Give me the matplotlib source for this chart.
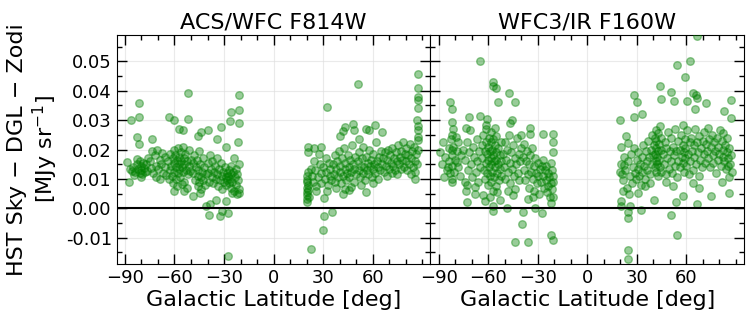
"""
sky_vs_latitude.py
Residual HST sky (after DGL and zodi subtraction) against galactic latitude,
ACS/WFC F814W and WFC3/IR F160W side by side.
Output: out.png
"""

import numpy as np
import matplotlib
matplotlib.use("Agg")
import matplotlib.pyplot as plt
from matplotlib.ticker import MultipleLocator

# (galactic latitude [deg], residual sky [MJy/sr])
acs_south = [
    (-52, .0392), (-81.4, .0360), (-86.6, .0300), (-81.4, .0310), (-63.6, .0310), (-60.4, .0300),
    (-51.6, .0305), (-20.8, .0386), (-25.6, .0327), (-20.8, .0334), (-26.4, .0298), (-20.8, .0291),
    (-32, .0276), (-57, .0270), (-54.6, .0265), (-44, .0258), (-39.6, .0265), (-46, .0247),
    (-83, .0242), (-73.4, .0235), (-34.4, .0235), (-21.4, .0227), (-81.4, .0218), (-29, .0210),
    (-24, .0170), (-89, .0156), (-87, .0133), (-87.4, .0088), (-60.4, .0060), (-54, .0058),
    (-49, .0042), (-44.6, .0051), (-35, .0028), (-29, .0025), (-41, .0006), (-38.6, .0014),
    (-39, -.0024), (-32.4, -.0026), (-31.4, -.0011), (-27.6, -.0016), (-27.4, -.0163), (-21, .0051),
    (-85, .0140), (-84, .0125), (-83, .0150), (-82, .0135), (-81, .0160), (-81, .0120),
    (-80, .0145), (-80, .0130), (-79.5, .0115), (-79, .0155), (-78.5, .0138), (-78, .0125),
    (-84.5, .0112), (-82.5, .0168), (-86, .0128), (-80.5, .0105),
    (-77, .0150), (-76, .0170), (-75, .0160), (-74, .0138), (-73, .0120), (-72, .0182),
    (-71.5, .0145), (-71, .0105), (-70, .0132), (-69, .0165), (-68.5, .0098), (-68, .0150),
    (-67, .0120), (-66, .0175), (-65.5, .0140), (-65, .0112), (-76.5, .0128), (-73.5, .0195),
    (-70.5, .0200), (-67.5, .0188),
    (-64, .0160), (-63, .0130), (-62.5, .0185), (-62, .0145), (-61.5, .0110), (-61, .0170),
    (-60.5, .0200), (-60, .0155), (-60, .0125), (-59.5, .0180), (-59, .0140), (-59, .0098),
    (-58.5, .0165), (-58, .0205), (-58, .0120), (-57.5, .0150), (-57, .0175), (-57, .0135),
    (-56.5, .0108), (-56, .0190), (-56, .0160), (-55.5, .0142), (-55, .0125), (-55, .0210),
    (-54.5, .0170), (-54, .0150), (-54, .0090), (-53.5, .0185), (-53, .0130), (-52.5, .0160),
    (-52, .0115), (-51.5, .0145), (-51, .0200), (-50.5, .0128), (-50, .0165), (-63.5, .0098),
    (-61, .0085), (-58.5, .0075), (-55.5, .0082), (-52.5, .0070),
    (-49, .0155), (-48.5, .0120), (-48, .0180), (-47.5, .0095), (-47, .0140), (-46.5, .0165),
    (-46, .0110), (-46, .0075), (-45.5, .0130), (-45, .0195), (-45, .0088), (-44.5, .0150),
    (-44, .0105), (-44, .0065), (-43.5, .0125), (-43, .0170), (-42.5, .0095), (-42, .0140),
    (-41.5, .0080), (-41, .0115),
    (-40, .0155), (-39.5, .0120), (-39, .0090), (-38.5, .0180), (-38, .0135), (-37.5, .0105),
    (-37, .0160), (-36.5, .0085), (-36, .0125), (-35.5, .0145), (-35, .0100), (-34.5, .0170),
    (-34, .0115), (-33.5, .0075), (-33, .0135), (-32.5, .0095), (-32, .0155), (-31.5, .0110),
    (-31, .0065), (-30.5, .0125), (-30, .0090),
    (-29.5, .0140), (-29, .0105), (-28.5, .0080), (-28, .0120), (-28, .0095), (-27.5, .0110),
    (-27, .0130), (-27, .0085), (-26.5, .0100), (-26, .0145), (-26, .0070), (-25.5, .0115),
    (-25, .0090), (-24.5, .0125), (-24, .0060), (-23.5, .0105), (-23, .0135), (-22.5, .0080),
    (-22, .0115), (-21.5, .0095), (-21, .0065), (-21, .0150), (-22, .0048), (-25, .0052),
]

acs_north = [
    (50.9, .0423), (32.2, .0344), (87.7, .0457), (87.7, .0411), (87.7, .0380), (87.7, .0370),
    (87.5, .0340), (86.8, .0300), (87.7, .0280), (87.5, .0267), (87.5, .0244), (87.5, .0233),
    (47.9, .0286), (43.4, .0276), (48.5, .0267), (56, .0270), (58, .0267), (61.6, .0284),
    (40.4, .0247), (41.8, .0264), (66, .0258), (20.7, .0210), (20.7, .0193), (24.7, .0205),
    (28.7, .0208), (30.3, .0034), (30.3, -.0025), (35.2, -.0014), (30.1, -.0074), (22.7, -.0139),
    (55.9, .0055), (41.8, .0048), (45.8, .0063),
    (20, .0030), (20, .0045), (20.5, .0055), (20, .0068), (21, .0080), (20.5, .0095),
    (20, .0110), (21, .0125), (20.5, .0020), (21.5, .0040), (20, .0088), (21, .0062),
    (23, .0110), (24, .0090), (25, .0130), (26, .0075), (27, .0105), (28, .0150),
    (28.5, .0120), (29, .0085), (30, .0140), (31, .0100), (31.5, .0170), (32, .0125),
    (33, .0080), (33.5, .0155), (34, .0110), (34.5, .0135), (35, .0095), (24.5, .0160),
    (27.5, .0185), (22.5, .0135), (26, .0060), (32.5, .0060),
    (36, .0150), (36.5, .0115), (37, .0180), (37.5, .0090), (38, .0135), (38.5, .0160),
    (39, .0105), (39.5, .0195), (40, .0125), (40.5, .0145), (41, .0085), (41.5, .0170),
    (42, .0110), (42.5, .0205), (43, .0135), (43.5, .0155), (44, .0095), (44.5, .0120),
    (45, .0180), (45.5, .0140), (46, .0105), (46.5, .0165), (47, .0125), (47.5, .0215),
    (48, .0150), (48.5, .0090), (49, .0135), (49.5, .0175), (50, .0115), (38, .0070),
    (43, .0065), (47, .0072),
    (51, .0160), (51.5, .0130), (52, .0190), (52.5, .0105), (53, .0145), (53.5, .0170),
    (54, .0120), (54.5, .0210), (55, .0140), (55.5, .0095), (56, .0175), (56.5, .0130),
    (57, .0155), (57.5, .0115), (58, .0200), (58.5, .0145), (59, .0165), (59.5, .0105),
    (60, .0185), (60.5, .0135), (61, .0150), (61.5, .0120), (62, .0225), (62.5, .0160),
    (63, .0140), (63.5, .0100), (64, .0175), (64.5, .0130), (65, .0195), (53, .0080),
    (60, .0085), (52, .0235),
    (66, .0150), (66.5, .0170), (67, .0125), (67.5, .0190), (68, .0145), (68.5, .0110),
    (69, .0165), (69.5, .0200), (70, .0135), (70.5, .0180), (71, .0155), (71.5, .0120),
    (72, .0205), (72.5, .0145), (73, .0170), (73.5, .0130), (74, .0190), (74.5, .0160),
    (75, .0115), (75.5, .0215), (76, .0150), (76.5, .0175), (77, .0135), (77.5, .0195),
    (78, .0165), (78.5, .0225), (79, .0140), (79.5, .0185),
    (80, .0160), (80.5, .0205), (81, .0130), (81.5, .0180), (82, .0150), (82.5, .0220),
    (83, .0115), (83.5, .0170), (84, .0195), (84.5, .0140), (85, .0210), (85.5, .0160),
    (86, .0125), (86.5, .0185), (87, .0150), (87.5, .0200), (86, .0100),
]

wfc3_south = [
    (-65.2, .0503), (-57.2, .0430), (-57.2, .0417), (-55, .0410), (-47.1, .0392), (-54.1, .0361),
    (-44, .0361), (-82.8, .0361), (-81.8, .0339), (-71.7, .0310), (-65.2, .0315), (-60.6, .0303),
    (-81.8, .0295), (-45.5, .0300), (-47, .0290), (-73.7, .0275), (-71, .0267), (-34.4, .0273),
    (-34.4, .0252), (-40, .0250), (-26.7, .0252), (-20.6, .0252), (-20.6, .0227), (-81.8, .0250),
    (-79.7, .0242), (-81.8, .0199), (-78.7, .0159), (-84.4, .0142), (-86.8, .0108), (-81.8, .0099),
    (-81.8, .0091), (-74.3, .0088), (-72.7, .0023), (-68.2, .0074), (-68.2, .0048), (-62, .0025),
    (-57.2, -.0009), (-57.2, .0009), (-52.6, .0028), (-48.5, .0000), (-39, -.0014), (-39.2, -.0053),
    (-43.8, -.0114), (-36, -.0114), (-21.7, -.0091), (-20.9, -.0108), (-27.3, -.0015), (-31.7, .0002),
    (-21.9, .0017), (-20.9, .0040), (-20.9, .0089), (-22, .0153), (-25, .0144), (-27.6, .0144),
    (-75, .0200), (-74, .0165), (-73, .0225), (-72, .0130), (-71.5, .0190), (-70.5, .0150),
    (-70, .0105), (-69, .0210), (-68.5, .0175), (-67.5, .0125), (-67, .0235), (-66.5, .0160),
    (-66, .0090), (-65.5, .0195), (-65, .0140), (-72.5, .0080), (-73.5, .0060),
    (-64, .0215), (-63.5, .0170), (-63, .0250), (-62.5, .0130), (-62, .0195), (-62, .0100),
    (-61.5, .0225), (-61, .0155), (-61, .0270), (-60.5, .0185), (-60.5, .0120), (-60, .0210),
    (-60, .0165), (-60, .0080), (-59.5, .0240), (-59.5, .0140), (-59, .0195), (-59, .0110),
    (-58.5, .0225), (-58.5, .0170), (-58, .0150), (-58, .0260), (-58, .0090), (-57.5, .0200),
    (-57.5, .0125), (-57, .0180), (-57, .0235), (-57, .0060), (-56.5, .0160), (-56.5, .0105),
    (-56, .0215), (-56, .0140), (-55.5, .0190), (-55.5, .0075), (-55, .0245), (-55, .0165),
    (-54.5, .0120), (-54, .0205), (-54, .0150), (-53.5, .0095), (-53, .0180), (-53, .0135),
    (-52.5, .0225), (-52, .0110), (-52, .0160), (-63, .0045), (-59, .0040), (-54.5, .0055),
    (-61.5, .0285), (-56, .0275),
    (-51, .0185), (-50.5, .0140), (-50, .0225), (-49.5, .0100), (-49, .0165), (-48.5, .0200),
    (-48, .0125), (-47.5, .0250), (-47, .0155), (-46.5, .0085), (-46, .0190), (-45.5, .0135),
    (-45, .0215), (-44.5, .0110), (-44, .0170), (-43.5, .0065), (-43, .0150), (-42.5, .0240),
    (-42, .0120), (-41.5, .0185), (-41, .0095), (-40.5, .0160), (-40, .0205), (-45, .0045),
    (-48, .0060),
    (-39, .0175), (-38.5, .0130), (-38, .0220), (-37.5, .0095), (-37, .0160), (-36.5, .0195),
    (-36, .0115), (-35.5, .0150), (-35, .0070), (-34.5, .0180), (-34, .0125), (-33.5, .0205),
    (-33, .0100), (-32.5, .0145), (-32, .0060), (-31.5, .0170), (-31, .0120), (-30.5, .0085),
    (-30, .0155), (-29.5, .0110), (-29, .0050), (-28.5, .0135), (-28, .0090), (-33, .0040),
    (-36, .0030),
    (-27, .0165), (-26.5, .0110), (-26, .0070), (-25.5, .0130), (-25, .0095), (-24.5, .0055),
    (-24, .0120), (-23.5, .0075), (-23, .0105), (-22.5, .0040), (-22, .0085), (-21.5, .0130),
    (-21, .0065), (-20.5, .0190), (-20.5, .0110),
    (-89, .0190), (-88, .0150), (-87.5, .0225), (-86, .0175), (-85, .0130), (-84, .0205),
    (-83.5, .0160), (-83, .0120), (-82.5, .0235), (-82, .0180), (-82, .0145), (-81.5, .0270),
    (-81, .0210), (-80.5, .0125), (-80, .0165), (-79, .0195), (-78.5, .0140), (-78, .0225),
    (-77, .0110), (-76.5, .0180),
]

wfc3_north = [
    (66.8, .0585), (54.7, .0489), (62, .0502), (59.4, .0447), (43.9, .0415), (50.7, .0397),
    (28.1, .0385), (30.1, .0363), (44.9, .0372), (52.7, .0366), (60.4, .0366), (64.4, .0392),
    (65.8, .0386), (66.6, .0374), (71.9, .0360), (87.2, .0367), (65.4, .0339), (82.9, .0330),
    (87.2, .0307), (20.1, .0301), (28.5, .0312), (33.2, .0322), (20.7, .0208), (24.7, .0222),
    (22.1, .0176), (19.7, .0122), (22.1, .0148), (25.1, .0048), (26.1, .0009), (20.5, .0026),
    (20.5, .0009), (24.7, -.0014), (24.7, -.0034), (24.7, -.0142), (24.7, -.0174), (31.1, .0051),
    (32.8, -.0006), (40.3, .0028), (50.7, -.0023), (54.7, -.0091), (53.7, .0023), (57.9, .0042),
    (66.8, .0014), (74.9, .0043), (86.2, .0051), (86.2, .0108), (81.9, .0091), (85.2, .0144),
    (20.5, .0150), (21, .0115), (22, .0095), (23, .0130), (24, .0070), (25, .0160),
    (26, .0110), (26.5, .0185), (27, .0085), (28, .0140), (28.5, .0205), (29, .0120),
    (29.5, .0100), (30, .0165), (23.5, .0245), (21.5, .0060),
    (30.5, .0135), (31, .0190), (31.5, .0110), (32, .0150), (32.5, .0080), (33, .0175),
    (33.5, .0125), (34, .0215), (34.5, .0145), (35, .0100), (35.5, .0195), (36, .0160),
    (36.5, .0130), (37, .0230), (37.5, .0175), (38, .0115), (38.5, .0200), (39, .0150),
    (39.5, .0250), (40, .0180), (35, .0075), (38, .0085),
    (40.5, .0215), (41, .0140), (41, .0240), (41, .0185), (41.5, .0160), (41.5, .0265),
    (42, .0205), (42, .0125), (42, .0230), (42.5, .0175), (42.5, .0150), (43, .0255),
    (43, .0195), (43, .0110), (43.5, .0220), (43.5, .0165), (44, .0280), (44, .0140),
    (44.5, .0200), (45, .0240), (45, .0125),
    (46, .0185), (46.5, .0150), (47, .0225), (47.5, .0115), (48, .0205), (48.5, .0170),
    (49, .0260), (49.5, .0135), (50, .0195), (50.5, .0160), (51, .0240), (51.5, .0120),
    (52, .0210), (52.5, .0180), (53, .0145), (53.5, .0270), (54, .0195), (54.5, .0105),
    (55, .0230), (55, .0160), (48, .0090), (52, .0075),
    (56, .0200), (56.5, .0140), (57, .0250), (57.5, .0175), (58, .0215), (58, .0155),
    (58, .0285), (58.5, .0190), (58.5, .0125), (59, .0235), (59, .0170), (59.5, .0205),
    (60, .0145), (60.5, .0265), (61, .0185), (61.5, .0115), (62, .0225),
    (62.5, .0160), (63, .0240), (63.5, .0195), (64, .0130), (64.5, .0215), (65, .0175),
    (65.5, .0270), (66, .0150), (66.5, .0225), (67, .0190), (67.5, .0110), (68, .0245),
    (68.5, .0165), (69, .0205), (69.5, .0140), (70, .0230), (64, .0085), (68, .0070),
    (70.5, .0185), (71, .0260), (71.5, .0155), (72, .0220), (72.5, .0195), (73, .0275),
    (73.5, .0170), (74, .0235), (74.5, .0140), (75, .0210), (75.5, .0250), (76, .0180),
    (76.5, .0155), (77, .0225), (77.5, .0195), (78, .0120),
    (78.5, .0240), (79, .0165), (79.5, .0210), (80, .0185), (80.5, .0265), (81, .0145),
    (81.5, .0230), (82, .0200), (82, .0175), (82.5, .0255), (83, .0160), (83.5, .0215),
    (84, .0135), (84.5, .0190), (85, .0240), (85.5, .0170), (86, .0205), (86.5, .0150),
    (87, .0180), (87.5, .0125),
]

panels = [
    ("ACS/WFC F814W", acs_south + acs_north),
    ("WFC3/IR F160W", wfc3_south + wfc3_north),
]

fig, axes = plt.subplots(1, 2, figsize=(7.55, 3.24), dpi=100, sharey=True)
fig.subplots_adjust(left=0.1546, right=0.9854, bottom=0.185, top=0.892, wspace=0)

for ax, (title, pts) in zip(axes, panels):
    pts = np.array(pts)
    ax.scatter(pts[:, 0], pts[:, 1], s=30, color="green", alpha=0.4,
               linewidths=1.0, zorder=3)
    ax.axhline(0, color="black", linewidth=1.5, zorder=4)

    ax.set_xlim(-95, 95)
    ax.set_ylim(-0.019, 0.059)
    ax.set_xticks([-90, -60, -30, 0, 30, 60])
    ax.xaxis.set_minor_locator(MultipleLocator(10))
    ax.yaxis.set_major_locator(MultipleLocator(0.01))
    ax.yaxis.set_minor_locator(MultipleLocator(0.005))
    ax.tick_params(which="both", direction="in", top=True, right=True, labelsize=13)
    ax.tick_params(which="major", length=7, width=1)
    ax.tick_params(which="minor", length=3.5, width=1)
    ax.grid(True, which="major", color="#dddddd", linewidth=0.8, alpha=0.6, zorder=0)

    ax.set_title(title, fontsize=16, pad=5)
    ax.set_xlabel("Galactic Latitude [deg]", fontsize=16, labelpad=2)

axes[0].set_ylabel("HST Sky \u2212 DGL \u2212 Zodi\n[MJy sr$^{-1}$]", fontsize=16, labelpad=4)
axes[0].yaxis.set_major_formatter(plt.FormatStrFormatter("%.2f"))

fig.savefig("out.png", dpi=100)
